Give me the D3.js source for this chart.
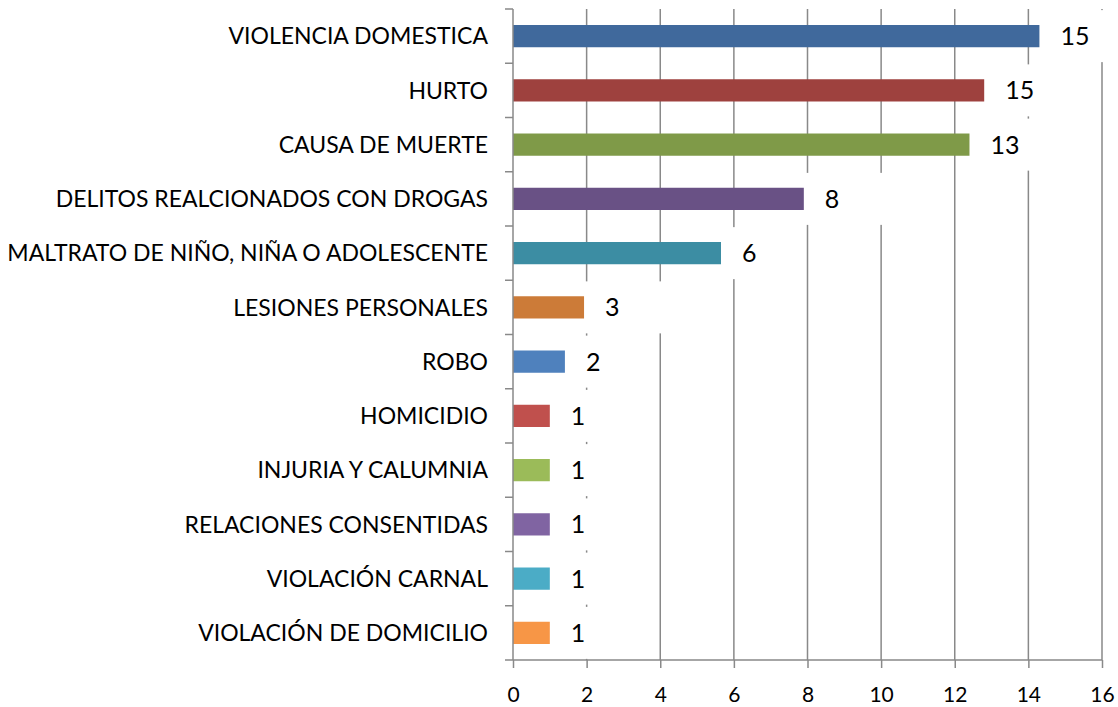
<!DOCTYPE html>
<html>
<head>
<meta charset="utf-8">
<script src="https://cdn.jsdelivr.net/npm/d3@7"></script>
<style>
  body { margin: 0; background: #fff; }
  text { font-family: Lato, "Open Sans", sans-serif; fill: #000; }
</style>
</head>
<body>
<div id="chart"></div>
<script>
// categories top to bottom
var categories = ["VIOLENCIA DOMESTICA", "HURTO", "CAUSA DE MUERTE", "DELITOS REALCIONADOS CON DROGAS",
  "MALTRATO DE NIÑO, NIÑA O ADOLESCENTE", "LESIONES PERSONALES", "ROBO", "HOMICIDIO",
  "INJURIA Y CALUMNIA", "RELACIONES CONSENTIDAS", "VIOLACIÓN CARNAL", "VIOLACIÓN DE DOMICILIO"]
// bar lengths as drawn (they don't match the printed labels exactly)
var barValues = [14.3, 12.8, 12.4, 7.9, 5.65, 1.93, 1.41, 1, 1, 1, 1, 1]
var labelTexts = ["15", "15", "13", "8", "6", "3", "2", "1", "1", "1", "1", "1"]
var xTicks = [0, 2, 4, 6, 8, 10, 12, 14, 16]
var barColors = ["#40699c", "#9e413e", "#7f9a48", "#695185", "#3c8da3", "#cc7b38",
  "#4f81bd", "#c0504d", "#9bbb59", "#8064a2", "#4bacc6", "#f79646"]

var width = 1118, height = 707
var plotLeft = 513, plotRight = 1102, plotTop = 9, plotBottom = 660

var svg = d3.select("#chart").append("svg")
    .attr("width", width)
    .attr("height", height)

var x = d3.scaleLinear().domain([0, 16]).range([plotLeft, plotRight])
var y = d3.scaleBand().domain(categories).range([plotTop, plotBottom])
    .paddingInner(0.59).paddingOuter(0.295)

var step = y.step()
var gridColor = "#898989"

// vertical gridlines
svg.append("g").selectAll("line")
    .data(xTicks.slice(1))
    .join("line")
    .attr("x1", d => x(d)).attr("x2", d => x(d))
    .attr("y1", plotTop).attr("y2", plotBottom)
    .attr("stroke", gridColor)
    .attr("stroke-width", 1.5)

// value labels with white boxes (they hide bits of the gridlines)
var lab = svg.append("g").selectAll("g")
    .data(categories)
    .join("g")

lab.append("rect").attr("fill", "white")
var labText = lab.append("text")
    .attr("x", (d, i) => x(barValues[i]) + 21)
    .attr("y", d => y(d) + y.bandwidth() / 2)
    .attr("dy", "0.36em")
    .style("font-size", "25px")
    .text((d, i) => labelTexts[i])

labText.each(function(d, i) {
    var w = this.getComputedTextLength()
    d3.select(this.parentNode).select("rect")
        .attr("x", x(barValues[i]))
        .attr("width", 21 + w + 45)
        .attr("y", y(d) + y.bandwidth() / 2 - 26)
        .attr("height", 52)
})

// bars
svg.append("g").selectAll("rect")
    .data(categories)
    .join("rect")
    .attr("x", x(0))
    .attr("y", d => y(d))
    .attr("height", y.bandwidth())
    .attr("width", (d, i) => x(barValues[i]) - x(0))
    .attr("fill", (d, i) => barColors[i])

// y axis line + ticks at category boundaries
svg.append("line")
    .attr("x1", plotLeft).attr("x2", plotLeft)
    .attr("y1", plotTop).attr("y2", plotBottom)
    .attr("stroke", gridColor).attr("stroke-width", 1.5)

svg.append("g").selectAll("line")
    .data(d3.range(categories.length))
    .join("line")
    .attr("x1", plotLeft - 8).attr("x2", plotLeft)
    .attr("y1", i => plotTop + i * step).attr("y2", i => plotTop + i * step)
    .attr("stroke", gridColor).attr("stroke-width", 1.5)

// category labels
svg.append("g").selectAll("text")
    .data(categories)
    .join("text")
    .attr("x", plotLeft - 25)
    .attr("y", d => y(d) + y.bandwidth() / 2)
    .attr("dy", "0.36em")
    .attr("text-anchor", "end")
    .style("font-size", "23px")
    .text(d => d)

// x axis
var xAxis = svg.append("g")
    .attr("transform", "translate(0," + plotBottom + ")")
    .call(d3.axisBottom(x).tickValues(xTicks).tickSize(8).tickSizeOuter(0).tickPadding(19))

xAxis.select(".domain").remove()
xAxis.append("line")
    .attr("x1", plotLeft - 8).attr("x2", plotRight)
    .attr("stroke", gridColor).attr("stroke-width", 1.5)
xAxis.selectAll(".tick line").attr("stroke", gridColor).attr("stroke-width", 1.5)
xAxis.selectAll(".tick text")
    .style("font-size", "21px")
    .style("font-family", "Lato, sans-serif")
    .attr("fill", "#000")
</script>
</body>
</html>
